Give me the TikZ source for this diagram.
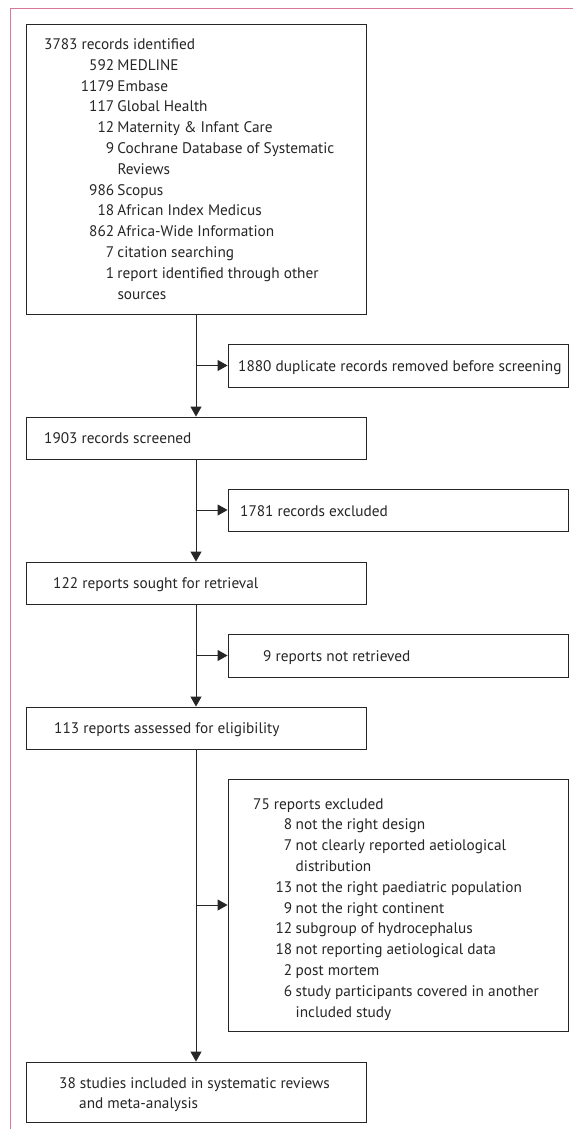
\documentclass[tikz,border=0pt]{standalone}
\usepackage{fontspec}
\setmainfont{PT Sans}
\usetikzlibrary{arrows.meta}
\definecolor{framepink}{RGB}{214,120,150}
\definecolor{ink}{RGB}{38,38,38}
\newcommand{\nbA}[1]{\makebox[70pt][r]{#1}}
\newcommand{\nbB}[1]{\makebox[39pt][r]{#1}}
\begin{document}
\begin{tikzpicture}[x=1pt,y=-1pt,
  box/.style={draw=ink,line width=0.9pt,rectangle,inner sep=0pt},
  txt/.style={inner sep=0pt,text=ink,font=\fontsize{15.3}{20.8}\selectfont},
  arrow/.style={draw=ink,line width=0.9pt,-{Triangle[length=10pt,width=11pt]}}]
\useasboundingbox (0,0) rectangle (573,1129);
\fill[white] (0,0) rectangle (573,1129);
\draw[framepink,line width=1.6pt] (10.5,1129) -- (10.5,8.5) -- (573,8.5);
% boxes
\node[box,minimum width=340pt,minimum height=290pt] (b1) at (196,169) {};
\node[box,minimum width=340pt,minimum height=43pt] (b2) at (398,365.5) {};
\node[box,minimum width=340pt,minimum height=42pt] (b3) at (196,438) {};
\node[box,minimum width=340pt,minimum height=42pt] (b4) at (398,510) {};
\node[box,minimum width=340pt,minimum height=42pt] (b5) at (196,583) {};
\node[box,minimum width=340pt,minimum height=43pt] (b6) at (398,655.5) {};
\node[box,minimum width=340pt,minimum height=42pt] (b7) at (196,728) {};
\node[box,minimum width=340pt,minimum height=252pt] (b8) at (398,905) {};
\node[box,minimum width=340pt,minimum height=60pt] (b9) at (196,1092) {};
% texts
\node[txt,anchor=base west] (t1) at (44,49.5) {\begin{tabular}[t]{@{}r@{\hspace{3.3pt}}l@{}}
\multicolumn{2}{@{}l@{}}{3783 records identified}\\
\nbA{592} & MEDLINE\\
\nbA{1179} & Embase\\
\nbA{117} & Global Health\\
\nbA{12} & Maternity \& Infant Care\\
\nbA{9} & Cochrane Database of Systematic\\
 & Reviews\\
\nbA{986} & Scopus\\
\nbA{18} & African Index Medicus\\
\nbA{862} & Africa-Wide Information\\
\nbA{7} & citation searching\\
\nbA{1} & report identified through other\\
 & sources
\end{tabular}};
\node[txt,anchor=base west] (t2) at (238,371) {1880 duplicate records removed before screening};
\node[txt,anchor=base west] (t3) at (44,443) {1903 records screened};
\node[txt,anchor=base west] (t4) at (240,516) {1781 records excluded};
\node[txt,anchor=base west] (t5) at (53,588) {122 reports sought for retrieval};
\node[txt,anchor=base west] (t6) at (263,661) {9 reports not retrieved};
\node[txt,anchor=base west] (t7) at (54,733) {113 reports assessed for eligibility};
\node[txt,anchor=base west] (t8) at (253,809) {\begin{tabular}[t]{@{}r@{\hspace{3.5pt}}l@{}}
\multicolumn{2}{@{}l@{}}{75 reports excluded}\\
\nbB{8} & not the right design\\
\nbB{7} & not clearly reported aetiological\\
 & distribution\\
\nbB{13} & not the right paediatric population\\
\nbB{9} & not the right continent\\
\nbB{12} & subgroup of hydrocephalus\\
\nbB{18} & not reporting aetiological data\\
\nbB{2} & post mortem\\
\nbB{6} & study participants covered in another\\
 & included study
\end{tabular}};
\node[txt,anchor=base west] (t9) at (59,1088) {\begin{tabular}[t]{@{}l@{}}
38 studies included in systematic reviews\\
\hspace{20pt}and meta-analysis
\end{tabular}};
% connectors
\draw[arrow] (b1.south) -- (b3.north);
\draw[arrow] (b3.south) -- (b5.north);
\draw[arrow] (b5.south) -- (b7.north);
\draw[arrow] (b7.south) -- (b9.north);
\draw[arrow] (b2.west -| b1.south) -- (b2.west);
\draw[arrow] (b4.west -| b1.south) -- (b4.west);
\draw[arrow] (b6.west -| b1.south) -- (b6.west);
\draw[arrow] (b8.west -| b1.south) -- (b8.west);
\end{tikzpicture}
\end{document}
